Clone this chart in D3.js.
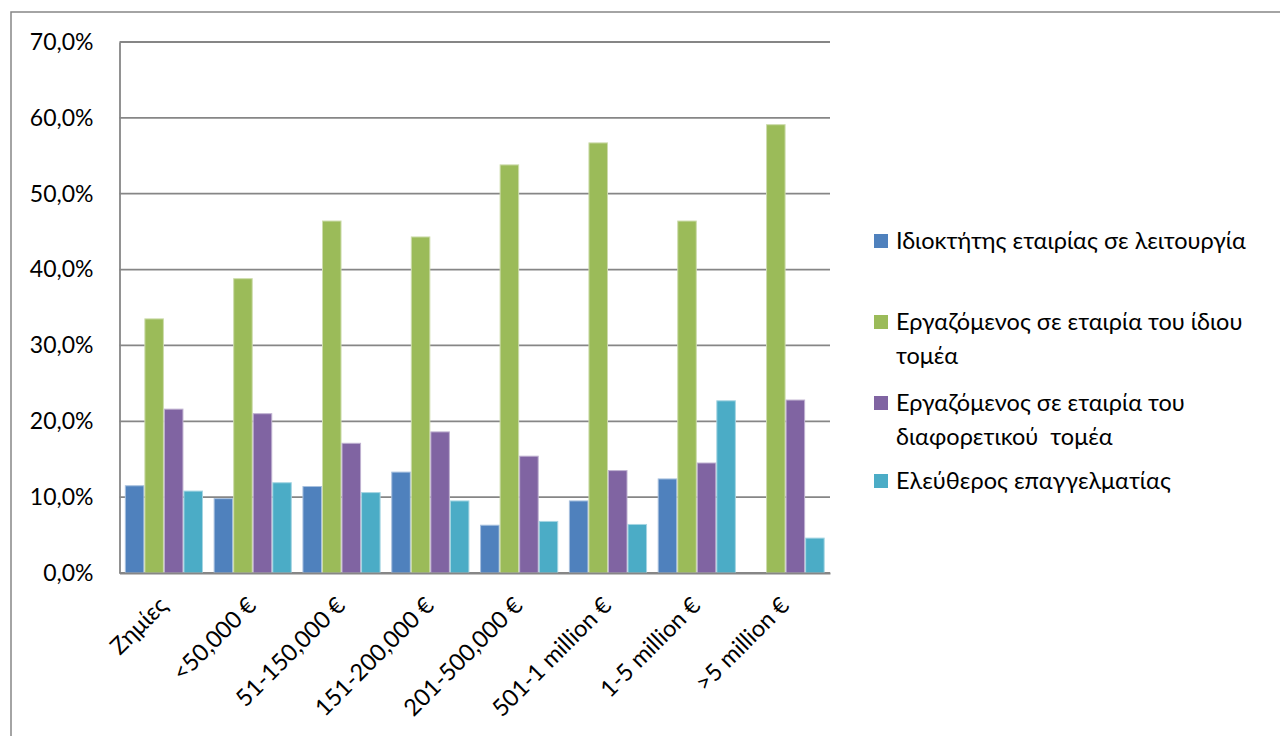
<!DOCTYPE html>
<html><head><meta charset="utf-8">
<script src="https://cdn.jsdelivr.net/npm/d3@7/dist/d3.min.js"></script>
<style>
html,body{margin:0;padding:0;background:#fff;}
text{font-family:Lato,"Noto Sans",sans-serif;fill:#000;}
</style></head>
<body><svg id="c" width="1280" height="736"></svg>
<script>
const categories = ["Ζημίες","<50,000 €","51-150,000 €","151-200,000 €","201-500,000 €","501-1 million €","1-5 million €",">5 million €"];
const seriesNames = ["Ιδιοκτήτης εταιρίας σε λειτουργία","Εργαζόμενος σε εταιρία του ίδιου τομέα","Εργαζόμενος σε εταιρία του διαφορετικού  τομέα","Ελεύθερος επαγγελματίας"];
const legendLines = [["Ιδιοκτήτης εταιρίας σε λειτουργία"],["Εργαζόμενος σε εταιρία του ίδιου","τομέα"],["Εργαζόμενος σε εταιρία του","διαφορετικού  τομέα"],["Ελεύθερος επαγγελματίας"]];
const owner = [11.5, 9.8, 11.4, 13.3, 6.3, 9.5, 12.4, 0];
const sameSector = [33.5, 38.8, 46.4, 44.3, 53.8, 56.7, 46.4, 59.1];
const otherSector = [21.6, 21.0, 17.1, 18.6, 15.4, 13.5, 14.5, 22.8];
const freelancer = [10.8, 11.9, 10.6, 9.5, 6.8, 6.4, 22.7, 4.6];
const yTicks = [0,10,20,30,40,50,60,70];
const colors = ["#4F81BD","#9BBB59","#8064A2","#4BACC6"];
const strokes = ["#a7c0de","#cddcac","#bfb1d0","#a5d5e2"];

const series = [owner, sameSector, otherSector, freelancer];
const svg = d3.select("#c");
const L=119.5, R=830, T=42, B=573;
const FONT = 'Lato,"Noto Sans",sans-serif';

svg.append("rect").attr("x",11).attr("y",12).attr("width",1300).attr("height",760)
  .attr("fill","none").attr("stroke","#868686").attr("stroke-width",1.5);

const x = d3.scaleBand().domain(categories).range([L,R]).paddingInner(0.12).paddingOuter(0.06);
const x1 = d3.scaleBand().domain(d3.range(4)).range([0,x.bandwidth()]);
const y = d3.scaleLinear().domain([0,70]).range([B,T]);

// grid
svg.append("g").selectAll("line").data(yTicks).join("line")
  .attr("x1",L).attr("x2",R).attr("y1",d=>y(d)).attr("y2",d=>y(d))
  .attr("stroke","#868686").attr("stroke-width",1.8);

// y axis
const ya = svg.append("g").attr("transform",`translate(${L},0)`)
  .call(d3.axisLeft(y).tickValues(yTicks).tickSize(0).tickPadding(26).tickFormat(d=>d.toFixed(1).replace(".",",")+"%"));
ya.select(".domain").attr("stroke","#868686").attr("stroke-width",1.8);
ya.selectAll("text").style("font-size","23px").style("font-family",FONT).attr("fill","#000");

// bars
const g = svg.append("g");
series.forEach((vals,si)=>{
  g.append("g").selectAll("rect").data(vals).join("rect")
    .attr("x",(d,i)=>x(categories[i])+x1(si)+0.5)
    .attr("width",x1.bandwidth()-1)
    .attr("y",d=>y(d))
    .attr("height",d=>B-y(d))
    .attr("fill",colors[si])
    .attr("stroke",d=>d>0?strokes[si]:"none").attr("stroke-width",1);
});

// x axis
const xa = svg.append("g").attr("transform",`translate(0,${B})`)
  .call(d3.axisBottom(x).tickSize(0).tickPadding(0));
xa.select(".domain").attr("stroke","#868686").attr("stroke-width",1.8);
xa.selectAll("text").style("font-size","23.5px").style("font-family",FONT).attr("fill","#000")
  .attr("text-anchor","end").attr("dy",null).attr("y",0)
  .attr("transform","translate(5,34) rotate(-45)");

// legend
const legY = [241, 322, 403, 481];
const lg = svg.append("g");
legendLines.forEach((lines,i)=>{
  lg.append("rect").attr("x",874).attr("y",legY[i]-7).attr("width",14).attr("height",14).attr("fill",colors[i]);
  lines.forEach((t,j)=>{
    lg.append("text").attr("x",896).attr("y",legY[i]+j*34).attr("dy","0.35em")
      .style("font-size","23.5px").style("white-space","pre").text(t);
  });
});
</script></body></html>
